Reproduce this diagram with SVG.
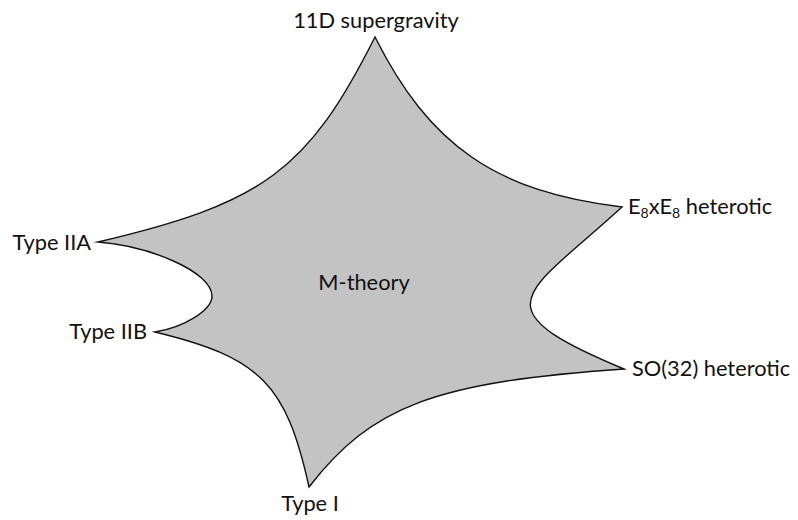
<svg xmlns="http://www.w3.org/2000/svg" width="798" height="520" viewBox="0 0 798 520">
<style>
.lbl{font-family:"Lato","Liberation Sans",sans-serif;font-size:21.8px;fill:#111}
.sub{font-size:14px}
</style>
<rect width="798" height="520" fill="#fff"/>
<g id="m-theory-shape">
<path d="M375,37 C429.8,146.1 496.4,192 622,207 C525.5,295.4 475.7,307.2 624,369 C435.2,382 372.2,405.6 309,487 C286.3,383.8 260.2,357.5 155,332 C185,327 212,310 212,296 C212,272 150,246 98,242 C263.5,203.2 307.8,170.6 375,37 Z" fill="#c3c3c3" stroke="#111" stroke-width="1.4" stroke-linejoin="miter" stroke-miterlimit="10"/>
</g>
<g id="labels">
<text id="center" class="lbl" x="364" y="290" text-anchor="middle">M-theory</text>
<text id="sugra" class="lbl" x="376" y="28" text-anchor="middle">11D supergravity</text>
<text id="e8" class="lbl" x="628" y="214">E<tspan class="sub" dy="4">8</tspan><tspan dy="-4">xE</tspan><tspan class="sub" dy="4">8</tspan><tspan dy="-4"> heterotic</tspan></text>
<text id="iia" class="lbl" x="91" y="250" text-anchor="end">Type IIA</text>
<text id="iib" class="lbl" x="147" y="339" text-anchor="end">Type IIB</text>
<text id="so32" class="lbl" x="632" y="376">SO(32) heterotic</text>
<text id="typei" class="lbl" x="310" y="511" text-anchor="middle">Type I</text>
</g>
</svg>
